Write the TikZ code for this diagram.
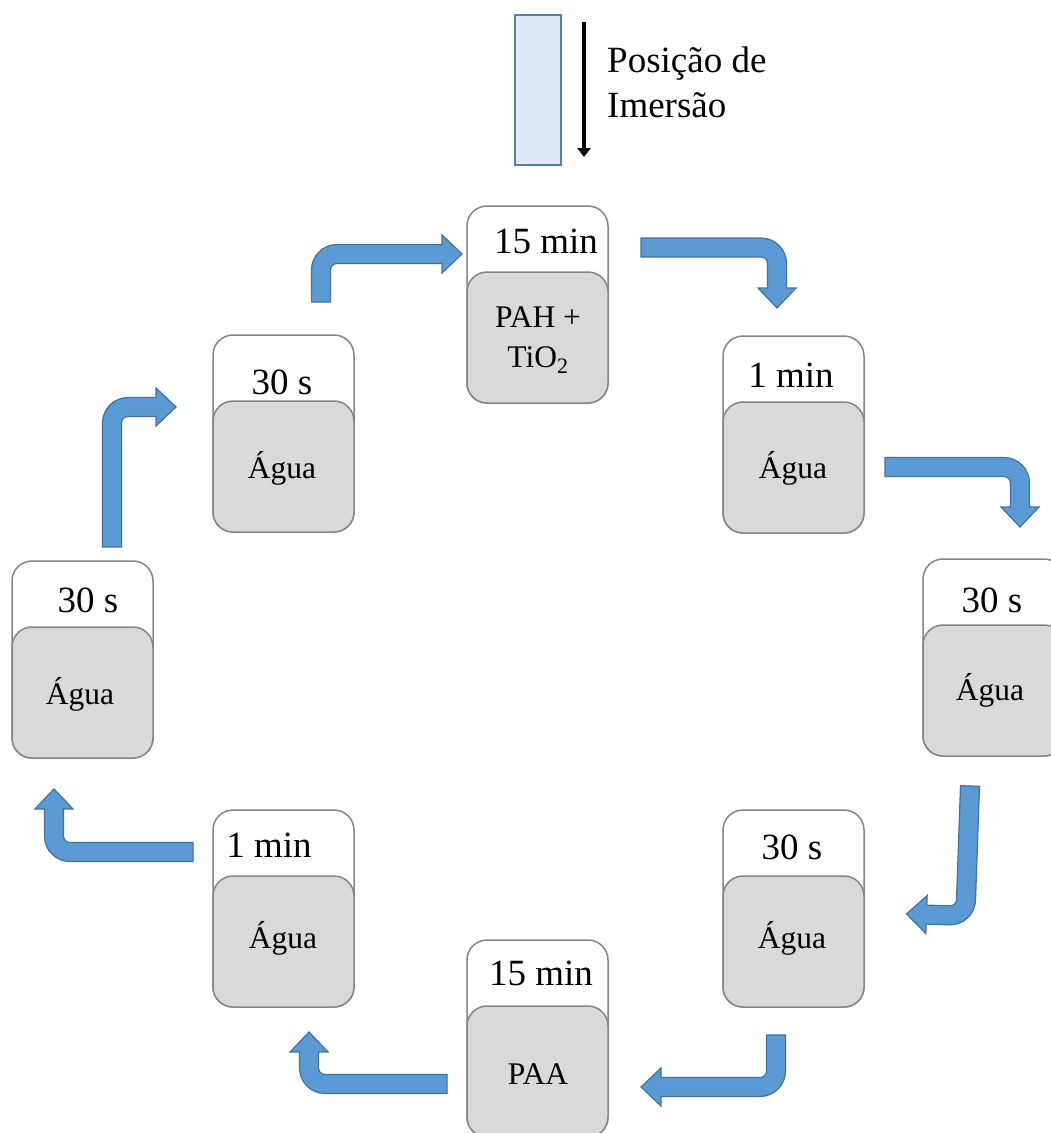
\documentclass[tikz,border=0pt]{standalone}
\usepackage{fontspec}
\setmainfont{Liberation Serif}
\usetikzlibrary{arrows.meta}

\definecolor{boxgray}{HTML}{858585}
\definecolor{bathgray}{HTML}{D9D9D9}
\definecolor{arrowblue}{HTML}{5B9BD5}
\definecolor{arrowedge}{HTML}{41719C}
\definecolor{slidefill}{HTML}{DEE8F4}
\definecolor{slideedge}{HTML}{5180B0}

\tikzset{
  box/.style={draw=boxgray, line width=1.5pt, fill=white, rounded corners=20pt, minimum width=141pt, minimum height=197pt, inner sep=0pt},
  bath/.style={draw=boxgray, line width=1.5pt, fill=bathgray, rounded corners=20pt, minimum width=141pt, minimum height=131pt, inner sep=0pt, anchor=south},
  time/.style={inner sep=0pt, font=\fontsize{37}{42}\selectfont},
  sol/.style={inner sep=0pt, font=\fontsize{31.5}{40}\selectfont, align=center},
  flow/.style={fill=arrowblue, draw=arrowedge, line width=1.2pt}
}

% bent block arrow: first leg of length #2 along +y, then #3 along +x
\newcommand{\bentarrow}[3]{%
  \draw[flow,#1] (-9.5,0) -- (-9.5,#2-16) arc[start angle=180,end angle=90,radius=25.5]
    -- (#3-20,#2+9.5) -- (#3-20,#2+19) -- (#3,#2) -- (#3-20,#2-19) -- (#3-20,#2-9.5)
    -- (16,#2-9.5) arc[start angle=90,end angle=180,radius=6.5] -- (9.5,0) -- cycle;}

\begin{document}
\begin{tikzpicture}[x=1pt,y=1pt]
    \useasboundingbox (0,0) rectangle (1051,-1133);

    % immersion position
    \node[draw=slideedge, line width=2pt, fill=slidefill, minimum width=46pt, minimum height=150pt, inner sep=0pt] (slide) at (538,-90) {};
    \coordinate (dtop) at (584,-22);
    \coordinate (dbot) at (584,-157);
    \draw[line width=3.5pt, -{Triangle[width=13pt,length=9pt]}] (dtop) -- (dbot);
    \node[anchor=base west, inner sep=0pt, font=\fontsize{37}{45}\selectfont] (pos1) at (607,-72) {Posição de};
    \node[anchor=base west, inner sep=0pt, font=\fontsize{37}{45}\selectfont] (pos2) at (607,-117) {Imersão};

    % beakers
    \node[box] (A) at (537.5,-304.5) {};
    \node[bath] (A-b) at (A.south) {};
    \node[time] (A-t) at (546,-241) {15 min};
    \node[sol] (A-s) at (538,-340) {PAH +\\TiO\textsubscript{2}};

    \node[box] (B) at (793.5,-434.5) {};
    \node[bath] (B-b) at (B.south) {};
    \node[time] (B-t) at (791,-375) {1 min};
    \node[sol] (B-s) at (793,-468) {Água};

    \node[box] (C) at (993.5,-657.5) {};
    \node[bath] (C-b) at (C.south) {};
    \node[time] (C-t) at (992,-600) {30 s};
    \node[sol] (C-s) at (990,-690) {Água};

    \node[box] (D) at (793.5,-908.5) {};
    \node[bath] (D-b) at (D.south) {};
    \node[time] (D-t) at (792,-847) {30 s};
    \node[sol] (D-s) at (792,-938) {Água};

    \node[box] (E) at (537.5,-1038.5) {};
    \node[bath] (E-b) at (E.south) {};
    \node[time] (E-t) at (541,-973) {15 min};
    \node[sol] (E-s) at (538,-1074) {PAA};

    \node[box] (F) at (283.5,-908.5) {};
    \node[bath] (F-b) at (F.south) {};
    \node[time] (F-t) at (269,-845) {1 min};
    \node[sol] (F-s) at (283,-938) {Água};

    \node[box] (G) at (82.5,-659.5) {};
    \node[bath] (G-b) at (G.south) {};
    \node[time] (G-t) at (88,-600) {30 s};
    \node[sol] (G-s) at (80,-694) {Água};

    \node[box] (H) at (283.5,-433.5) {};
    \node[bath] (H-b) at (H.south) {};
    \node[time] (H-t) at (282,-382) {30 s};
    \node[sol] (H-s) at (282,-468) {Água};

    % transfer arrows
    \bentarrow{shift={(321,-302)}}{48}{141}
    \bentarrow{shift={(641,-247.5)}, rotate=-90}{136}{60.5}
    \bentarrow{shift={(885,-467)}, rotate=-90}{135}{60}
    \bentarrow{shift={(970,-786)}, rotate=178}{130}{59}
    \bentarrow{shift={(776,-1035)}, rotate=180}{52}{135}
    \bentarrow{shift={(447,-1084)}, rotate=90}{138}{52}
    \bentarrow{shift={(193,-852)}, rotate=90}{139}{63}
    \bentarrow{shift={(112,-547)}}{140}{64}
\end{tikzpicture}
\end{document}
